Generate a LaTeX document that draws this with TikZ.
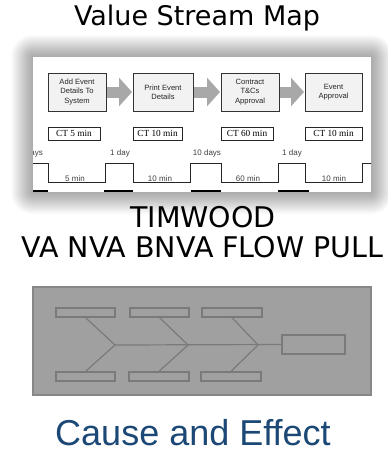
\documentclass[tikz,border=0pt]{standalone}
\usepackage{fontspec}
\setmainfont{Liberation Sans}
\newfontfamily\dejavu{DejaVu Sans}
\newfontfamily\libserif{Liberation Serif}
\usetikzlibrary{arrows.meta}
\definecolor{arrowgray}{RGB}{168,168,168}
\definecolor{fishfill}{RGB}{160,160,160}
\definecolor{fishline}{RGB}{122,122,122}
\definecolor{causeblue}{RGB}{28,72,118}
\tikzset{
  procbox/.style={draw=black!80, fill=black!5, line width=1pt, minimum height=38pt, inner sep=1pt,
    align=center, font=\fontsize{7.6}{9.2}\selectfont, text=black!85},
  ctbox/.style={draw=black!85, line width=0.8pt, minimum height=13pt, inner sep=0pt,
    font=\libserif\fontsize{9.3}{10}\selectfont},
  flowarrow/.style={draw=arrowgray, line width=11pt, -{Triangle[width=28pt,length=13pt]}},
  smalllabel/.style={anchor=base, inner sep=0pt, font=\fontsize{8}{9}\selectfont, text=black!75},
  bigtitle/.style={anchor=base, inner sep=0pt, font=\dejavu\fontsize{27}{30}\selectfont},
  bone/.style={draw=fishline, line width=1.2pt},
  bonebox/.style={draw=fishline, line width=1.2pt, minimum height=9pt, inner sep=0pt}
}
\begin{document}
\begin{tikzpicture}[x=1pt,y=-1pt]
\useasboundingbox (0,0) rectangle (388,453);
\fill[white] (0,0) rectangle (388,453);

% title
\node[bigtitle] (title) at (197,25) {Value Stream Map};

% shadow of picture
\foreach \i in {1,...,22}
  \fill[black,opacity=0.016,rounded corners=\i pt] (33-\i,57-\i) rectangle (371+\i,192+\i);
\fill[white] (33,57) rectangle (371,192);

\begin{scope}
\clip (33,57) rectangle (371,192);
% process boxes
\node[procbox, minimum width=58pt] (p1) at (77,92) {Add Event\\Details To\\System};
\node[procbox, minimum width=60pt] (p2) at (163,92) {Print Event\\Details};
\node[procbox, minimum width=58pt] (p3) at (250,92) {Contract\\T\&Cs\\Approval};
\node[procbox, minimum width=57pt] (p4) at (333.5,92) {Event\\Approval};
\draw[flowarrow, shorten <=0.5pt, shorten >=0.5pt] (p1.east) -- (p2.west);
\draw[flowarrow, shorten <=0.5pt, shorten >=0.5pt] (p2.east) -- (p3.west);
\draw[flowarrow, shorten <=0.5pt, shorten >=0.5pt] (p3.east) -- (p4.west);
% cycle time boxes
\node[ctbox, minimum width=52pt] (c1) at (74,133.5) {CT 5 min};
\node[ctbox, minimum width=49pt] (c2) at (157.5,133.5) {CT 10 min};
\node[ctbox, minimum width=52pt] (c3) at (247,133.5) {CT 60 min};
\node[ctbox, minimum width=57pt] (c4) at (333.5,133.5) {CT 10 min};
% timeline
\draw[line width=0.9pt, black!85] (20,163) -- (48,163) -- (48,182) -- (105,182) -- (105,163)
  -- (133,163) -- (133,182) -- (190,182) -- (190,163) -- (221,163) -- (221,182)
  -- (278,182) -- (278,163) -- (305,163) -- (305,182) -- (362,182) -- (362,163) -- (380,163);
\node[smalllabel, anchor=base east] (d0) at (43,155) {days};
\node[smalllabel] (d1) at (120,155) {1 day};
\node[smalllabel] (d2) at (207,155) {10 days};
\node[smalllabel] (d3) at (292,155) {1 day};
\node[smalllabel] (m1) at (75,181) {5 min};
\node[smalllabel] (m2) at (160,181) {10 min};
\node[smalllabel] (m3) at (248,181) {60 min};
\node[smalllabel] (m4) at (334,181) {10 min};
\draw[line width=1.3pt] (20,191) -- (48,191);
\draw[line width=1.3pt] (104,191) -- (133,191);
\draw[line width=1.3pt] (191,191) -- (221,191);
\draw[line width=1.3pt] (278,191) -- (309,191);
\end{scope}

% lists
\node[bigtitle, font=\dejavu\fontsize{28.5}{30}\selectfont] (tim) at (203,227) {TIMWOOD};
\node[bigtitle, font=\dejavu\fontsize{28.5}{30}\selectfont] (va) at (202.5,257) {VA NVA BNVA FLOW PULL};

% fishbone
\filldraw[fill=fishfill, draw=fishline!90, line width=1.2pt] (33,287) rectangle (371,395);
\node[bonebox, minimum width=59pt] (t1) at (85.5,312.5) {};
\node[bonebox, minimum width=59pt] (t2) at (159.5,312.5) {};
\node[bonebox, minimum width=60pt] (t3) at (232,312.5) {};
\node[bonebox, minimum width=59pt] (b1) at (85.5,376.5) {};
\node[bonebox, minimum width=60pt] (b2) at (159,376.5) {};
\node[bonebox, minimum width=60pt] (b3) at (231,376.5) {};
\node[bonebox, minimum width=63pt, minimum height=19pt] (eff) at (313.5,344.5) {};
\coordinate (j1) at (115,345);
\coordinate (j2) at (188,345);
\coordinate (j3) at (258,345);
\draw[bone] (j1) -- (eff.west);
\draw[bone] (t1.south) -- (j1) -- (b1.north);
\draw[bone] (t2.south) -- (j2) -- (b2.north);
\draw[bone] (t3.south) -- (j3) -- (b3.north);

% caption
\node[anchor=base, inner sep=0pt, font=\fontsize{36}{40}\selectfont, text=causeblue] (cause) at (193,445) {Cause and Effect};
\end{tikzpicture}
\end{document}
